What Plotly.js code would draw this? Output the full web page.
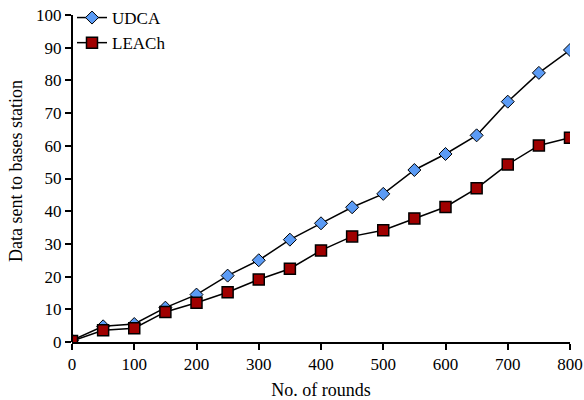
<!DOCTYPE html>
<html><head><meta charset="utf-8">
<script src="https://cdn.plot.ly/plotly-3.0.1.min.js"></script>
<style>html,body{margin:0;padding:0;background:#fff}#chart{width:584px;height:400px}</style>
</head><body><div id="chart"></div>
<script>
const rounds = [0,50,100,150,200,250,300,350,400,450,500,550,600,650,700,750,800];
const udca = [0.5,4.8,5.5,10.5,14.5,20.3,25,31.3,36.3,41.2,45.3,52.6,57.5,63.2,73.5,82.3,89.3];
const leach = [0.3,3.6,4.2,9.2,12,15.2,19.1,22.4,28,32.3,34.2,37.8,41.3,47,54.3,60.1,62.5];
const yTicks = [0,10,20,30,40,50,60,70,80,90,100];
const xTicks = [0,100,200,300,400,500,600,700,800];
const fam = '"Liberation Serif","Times New Roman",serif';
const tickFont = {family:fam, size:17, color:'#000'};
const titleFont = {family:fam, size:18, color:'#000'};
const legFont = {family:fam, size:17, color:'#000'};
const yMax = yTicks[yTicks.length-1];
const traces = [
 {x:rounds, y:udca, name:'UDCA', mode:'lines+markers', line:{color:'#000',width:1.5},
  marker:{symbol:'diamond', size:10, color:'#5b9bf5', line:{color:'#000',width:1}}},
 {x:rounds, y:leach, name:'LEACh', mode:'lines+markers', line:{color:'#000',width:1.5},
  marker:{symbol:'square', size:11, color:'#a00000', line:{color:'#000',width:1.5}}}
];
const layout = {
 width:584, height:400, margin:{l:72,r:14,t:0,b:58},
 paper_bgcolor:'#fff', plot_bgcolor:'#fff', font:tickFont,
 showlegend:true,
 legend:{x:0, y:1.0, xanchor:'left', yanchor:'top', bgcolor:'rgba(0,0,0,0)', font:legFont, tracegroupgap:0},
 xaxis:{range:[0,800], tickvals:xTicks, showgrid:false, zeroline:false,
  showline:true, linecolor:'#000', linewidth:2, ticks:'outside', ticklen:6, tickwidth:2, tickcolor:'#000',
  tickfont:tickFont, title:{text:'No. of rounds', font:titleFont, standoff:12}},
 yaxis:{range:[0,yMax*342/327], tickvals:yTicks, showgrid:false, zeroline:false,
  showline:false, ticks:'outside', ticklen:6, tickwidth:2, tickcolor:'#000',
  tickfont:tickFont, title:{text:'Data sent to bases station', font:titleFont, standoff:8}},
 shapes:[{type:'line', xref:'paper', yref:'y', x0:0, x1:0, y0:0, y1:yMax, line:{color:'#000', width:2}, layer:'above'}]
};
Plotly.newPlot('chart', traces, layout, {displayModeBar:false, staticPlot:true});
</script></body></html>
